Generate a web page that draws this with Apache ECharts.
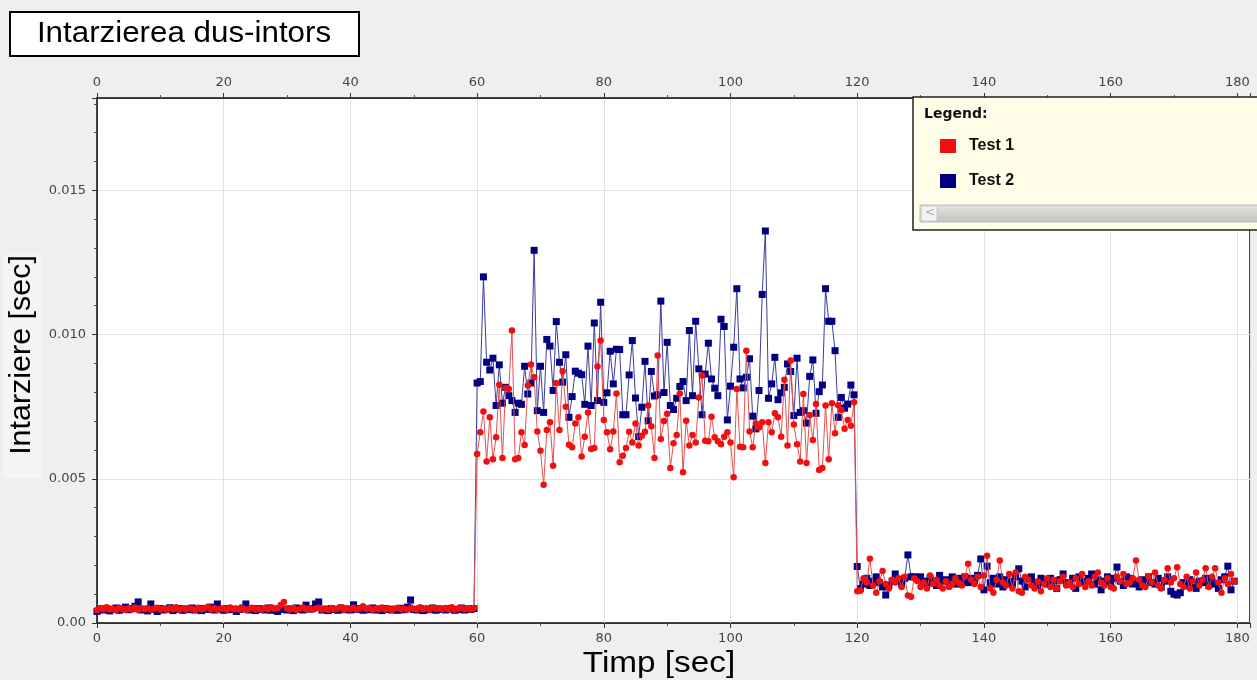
<!DOCTYPE html>
<html>
<head>
<meta charset="utf-8">
<script src="https://cdn.jsdelivr.net/npm/echarts@6/dist/echarts.min.js"></script>
<style>
html,body{margin:0;padding:0;background:#efefed;}
#chart{width:1257px;height:680px;}
</style>
</head>
<body>
<div id="chart"></div>
<script>
// ---- data (seconds), one sample every 0.5 s ----
const SAMPLE_STEP = 0.5;
const seriesNames = ['Test 1', 'Test 2'];
const xTickValues = [0, 20, 40, 60, 80, 100, 120, 140, 160, 180];
const xTickLabels = ['0', '20', '40', '60', '80', '100', '120', '140', '160', '180'];
const yTickValues = [0, 0.005, 0.010, 0.015];
const yTickLabels = ['0.00', '0.005', '0.010', '0.015'];

// Test 1, 0..59.5 s
const test1Phase1 = [
0.00045,0.00052,0.00048,0.00055,0.00047,0.00050,0.00044,0.00053,0.00049,0.00046,
0.00051,0.00047,0.00054,0.00045,0.00050,0.00048,0.00052,0.00046,0.00049,0.00053,
0.00047,0.00050,0.00045,0.00052,0.00048,0.00055,0.00046,0.00050,0.00047,0.00051,
0.00049,0.00045,0.00053,0.00048,0.00050,0.00056,0.00047,0.00052,0.00045,0.00049,
0.00051,0.00046,0.00054,0.00048,0.00050,0.00047,0.00052,0.00045,0.00049,0.00053,
0.00047,0.00050,0.00046,0.00052,0.00048,0.00055,0.00049,0.00051,0.00062,0.00073,
0.00050,0.00047,0.00052,0.00045,0.00049,0.00054,0.00048,0.00051,0.00046,0.00050,
0.00053,0.00047,0.00049,0.00045,0.00052,0.00048,0.00050,0.00055,0.00046,0.00051,
0.00048,0.00053,0.00047,0.00050,0.00058,0.00049,0.00052,0.00046,0.00050,0.00048,
0.00054,0.00047,0.00051,0.00045,0.00049,0.00053,0.00048,0.00050,0.00046,0.00052,
0.00049,0.00047,0.00055,0.00048,0.00051,0.00046,0.00053,0.00049,0.00050,0.00047,
0.00052,0.00048,0.00055,0.00046,0.00050,0.00053,0.00048,0.00051,0.00047,0.00052];
// Test 1, 60..119.5 s
const test1Phase2 = [
0.00586,0.00661,0.00733,0.00560,0.00713,0.00568,0.00644,0.00826,0.00572,0.00815,
0.00811,0.01014,0.00568,0.00572,0.00661,0.00617,0.00823,0.00896,0.00852,0.00664,
0.00597,0.00479,0.00669,0.00696,0.00545,0.00832,0.00669,0.00873,0.00750,0.00618,
0.00609,0.00692,0.00713,0.00577,0.00646,0.00730,0.00603,0.00607,0.00889,0.00979,
0.00704,0.00661,0.00602,0.00664,0.00796,0.00557,0.00580,0.00607,0.00663,0.00626,
0.00692,0.00615,0.00649,0.00663,0.00754,0.00682,0.00572,0.00927,0.00638,0.00700,
0.00725,0.00537,0.00623,0.00652,0.00796,0.00523,0.00701,0.00615,0.00652,0.00626,
0.00782,0.00858,0.00632,0.00630,0.00715,0.00644,0.00630,0.00620,0.00646,0.00661,
0.00626,0.00505,0.00811,0.00611,0.00609,0.00944,0.00664,0.00609,0.00692,0.00678,
0.00696,0.00555,0.00696,0.00661,0.00727,0.00713,0.00646,0.00843,0.00615,0.00910,
0.00688,0.00620,0.00560,0.00794,0.00555,0.00721,0.00634,0.00759,0.00530,0.00537,
0.00754,0.00568,0.00762,0.00658,0.00755,0.00738,0.00673,0.00704,0.00684,0.00765];
// Test 1, 120..179.5 s
const test1Phase3 = [
0.00110,0.00112,0.00155,0.00140,0.00223,0.00130,0.00105,0.00145,0.00180,0.00135,
0.00120,0.00150,0.00140,0.00155,0.00125,0.00160,0.00095,0.00091,0.00155,0.00145,
0.00125,0.00140,0.00120,0.00165,0.00135,0.00150,0.00130,0.00120,0.00145,0.00125,
0.00135,0.00155,0.00140,0.00130,0.00160,0.00205,0.00150,0.00135,0.00160,0.00125,
0.00165,0.00233,0.00120,0.00105,0.00150,0.00217,0.00140,0.00130,0.00170,0.00120,
0.00175,0.00110,0.00105,0.00160,0.00150,0.00130,0.00120,0.00145,0.00110,0.00135,
0.00155,0.00125,0.00150,0.00120,0.00145,0.00160,0.00130,0.00140,0.00125,0.00155,
0.00135,0.00170,0.00125,0.00145,0.00130,0.00160,0.00175,0.00140,0.00130,0.00155,
0.00125,0.00120,0.00160,0.00145,0.00170,0.00135,0.00140,0.00155,0.00217,0.00150,
0.00130,0.00125,0.00160,0.00140,0.00175,0.00130,0.00120,0.00150,0.00190,0.00140,
0.00155,0.00193,0.00135,0.00125,0.00160,0.00120,0.00145,0.00175,0.00130,0.00150,
0.00190,0.00125,0.00160,0.00190,0.00140,0.00105,0.00155,0.00135,0.00170,0.00145];

// Test 2, 0..59.5 s
const test2Phase1 = [
0.00040,0.00048,0.00045,0.00050,0.00042,0.00047,0.00052,0.00044,0.00048,0.00055,
0.00046,0.00050,0.00058,0.00073,0.00045,0.00048,0.00042,0.00066,0.00047,0.00040,
0.00050,0.00045,0.00048,0.00053,0.00043,0.00047,0.00050,0.00044,0.00049,0.00046,
0.00052,0.00045,0.00048,0.00043,0.00050,0.00047,0.00055,0.00045,0.00066,0.00048,
0.00044,0.00050,0.00046,0.00048,0.00040,0.00047,0.00052,0.00066,0.00045,0.00048,
0.00043,0.00050,0.00047,0.00045,0.00052,0.00044,0.00048,0.00040,0.00050,0.00047,
0.00045,0.00049,0.00043,0.00052,0.00047,0.00045,0.00062,0.00048,0.00050,0.00066,
0.00073,0.00045,0.00048,0.00043,0.00050,0.00047,0.00044,0.00052,0.00046,0.00048,
0.00045,0.00063,0.00047,0.00050,0.00044,0.00048,0.00046,0.00052,0.00045,0.00049,
0.00043,0.00050,0.00047,0.00045,0.00048,0.00044,0.00051,0.00046,0.00055,0.00080,
0.00047,0.00045,0.00050,0.00043,0.00048,0.00046,0.00052,0.00044,0.00049,0.00047,
0.00045,0.00050,0.00048,0.00044,0.00047,0.00052,0.00045,0.00049,0.00047,0.00050];
// Test 2, 60..119.5 s
const test2Phase2 = [
0.00832,0.00837,0.01200,0.00904,0.00877,0.00918,0.00754,0.00895,0.00762,0.00817,
0.00788,0.00771,0.00730,0.00762,0.00758,0.00890,0.00794,0.00832,0.01292,0.00736,
0.00890,0.00730,0.00983,0.00960,0.00806,0.01045,0.00904,0.00835,0.00930,0.00713,
0.00785,0.00873,0.00866,0.00861,0.00758,0.00960,0.00754,0.01040,0.00771,0.01112,
0.00765,0.00798,0.00942,0.00829,0.00949,0.00948,0.00722,0.00722,0.00860,0.00979,
0.00780,0.00646,0.00748,0.00907,0.00701,0.00872,0.00787,0.00791,0.01116,0.00799,
0.00973,0.00754,0.00740,0.00779,0.00820,0.00837,0.00771,0.01014,0.00788,0.01046,
0.00881,0.00722,0.00863,0.00970,0.00846,0.00814,0.00788,0.01053,0.01028,0.00704,
0.00821,0.00956,0.01159,0.00846,0.00815,0.00852,0.00916,0.00717,0.00673,0.00806,
0.01139,0.01359,0.00779,0.00829,0.00921,0.00774,0.00798,0.00817,0.00898,0.00872,
0.00719,0.00918,0.00730,0.00736,0.00693,0.00855,0.00912,0.00727,0.00802,0.00825,
0.01159,0.01046,0.01046,0.00944,0.00713,0.00782,0.00745,0.00759,0.00825,0.00791];
// Test 2, 120..179.5 s
const test2Phase3 = [
0.00196,0.00120,0.00135,0.00155,0.00130,0.00145,0.00160,0.00140,0.00125,0.00097,
0.00130,0.00145,0.00170,0.00150,0.00135,0.00155,0.00236,0.00160,0.00160,0.00155,
0.00160,0.00145,0.00135,0.00155,0.00140,0.00130,0.00165,0.00145,0.00150,0.00140,
0.00160,0.00135,0.00155,0.00145,0.00160,0.00140,0.00155,0.00145,0.00165,0.00222,
0.00115,0.00197,0.00140,0.00155,0.00135,0.00160,0.00125,0.00150,0.00145,0.00135,
0.00160,0.00188,0.00145,0.00125,0.00155,0.00160,0.00140,0.00130,0.00155,0.00145,
0.00135,0.00155,0.00145,0.00120,0.00150,0.00170,0.00140,0.00135,0.00155,0.00120,
0.00160,0.00140,0.00145,0.00155,0.00170,0.00135,0.00150,0.00115,0.00145,0.00160,
0.00140,0.00155,0.00194,0.00145,0.00130,0.00160,0.00155,0.00135,0.00140,0.00125,
0.00150,0.00145,0.00160,0.00140,0.00135,0.00155,0.00125,0.00145,0.00160,0.00110,
0.00100,0.00097,0.00105,0.00140,0.00130,0.00150,0.00135,0.00120,0.00145,0.00140,
0.00155,0.00130,0.00145,0.00135,0.00120,0.00150,0.00160,0.00197,0.00115,0.00145];

// ---- build ----
const test1 = test1Phase1.concat(test1Phase2, test1Phase3);
const test2 = test2Phase1.concat(test2Phase2, test2Phase3);
const toPairs = arr => arr.map((v, i) => [i * SAMPLE_STEP, v]);

function labelFor(values, labels) {
  return function (v) {
    for (let i = 0; i < values.length; i++) {
      if (Math.abs(v - values[i]) < 1e-9) return labels[i];
    }
    return '';
  };
}

const tickFont = { fontFamily: 'DejaVu Sans', fontSize: 13, color: '#444' };
function xAxisCfg(pos) {
  return {
    type: 'value', position: pos, min: 0, max: 182, interval: 20,
    axisLine: { show: true, onZero: false, lineStyle: { color: '#333', width: 1 } },
    axisTick: { show: true, length: 5, lineStyle: { color: '#333' } },
    minorTick: { show: true, splitNumber: 2, length: 3, lineStyle: { color: '#555' } },
    axisLabel: Object.assign({ margin: 9, showMaxLabel: false, formatter: labelFor(xTickValues, xTickLabels) }, tickFont),
    splitLine: { show: pos === 'bottom', lineStyle: { color: '#e3e3e3', width: 1 } }
  };
}

const chart = echarts.init(document.getElementById('chart'), null, { renderer: 'canvas' });
chart.setOption({
  animation: false,
  backgroundColor: '#efefed',
  grid: { left: 97, right: 7, top: 98, bottom: 57, show: true, backgroundColor: '#ffffff', borderColor: '#444', borderWidth: 2 },
  xAxis: [xAxisCfg('bottom'), xAxisCfg('top')],
  yAxis: {
    type: 'value', min: 0, max: 0.0182, interval: 0.005,
    axisLine: { show: true, lineStyle: { color: '#333' } },
    axisTick: { show: true, length: 5, lineStyle: { color: '#333' } },
    minorTick: { show: true, splitNumber: 5, length: 3, lineStyle: { color: '#555' } },
    axisLabel: Object.assign({ margin: 11, showMaxLabel: false, formatter: labelFor(yTickValues, yTickLabels) }, tickFont),
    splitLine: { show: true, lineStyle: { color: '#e3e3e3', width: 1 } }
  },
  legend: {
    orient: 'vertical', left: 940, top: 138, padding: 0, itemGap: 19, itemWidth: 16, itemHeight: 14,
    icon: 'rect', z: 30,
    textStyle: { fontFamily: 'Liberation Sans', fontWeight: 'bold', fontSize: 16, color: '#111', padding: [0, 0, 0, 8] },
    data: [
      { name: seriesNames[0], itemStyle: { color: '#f01010' } },
      { name: seriesNames[1], itemStyle: { color: '#000080' } }
    ]
  },
  graphic: [
    { type: 'rect', z: 10, shape: { x: 10, y: 12, width: 349, height: 44 }, style: { fill: '#ffffff', stroke: '#000', lineWidth: 2 } },
    { type: 'text', z: 11, x: 184, y: 34, scaleX: 1.08, style: { text: 'Intarzierea dus-intors', font: '29px "Liberation Sans"', fill: '#000', textAlign: 'center', textVerticalAlign: 'middle' } },
    { type: 'rect', z: 1, shape: { x: 3, y: 255, width: 39, height: 223 }, style: { fill: '#f5f5f3' } },
    { type: 'text', z: 11, x: 22, y: 355, rotation: Math.PI / 2, scaleX: 1.05, style: { text: 'Intarziere [sec]', font: '29px "Liberation Sans"', fill: '#000', textAlign: 'center', textVerticalAlign: 'middle' } },
    { type: 'text', z: 11, x: 659, y: 664, scaleX: 1.11, style: { text: 'Timp [sec]', font: '30px "Liberation Sans"', fill: '#000', textAlign: 'center', textVerticalAlign: 'middle' } },
    // legend panel
    { type: 'rect', z: 10, shape: { x: 913, y: 97, width: 360, height: 133 }, style: { fill: '#fdfde8', stroke: '#222', lineWidth: 1.5 } },
    { type: 'text', z: 11, x: 924, y: 114, style: { text: 'Legend:', font: 'bold 14px "DejaVu Sans"', fill: '#111', textVerticalAlign: 'middle' } },
    { type: 'rect', z: 11, shape: { x: 920, y: 205, width: 350, height: 17 }, style: { fill: new echarts.graphic.LinearGradient(0, 0, 0, 1, [{ offset: 0, color: '#e4e2e0' }, { offset: 1, color: '#c4c2c0' }]), stroke: '#bbb', lineWidth: 1 } },
    { type: 'rect', z: 12, shape: { x: 921, y: 206, width: 16, height: 15 }, style: { fill: '#f2f2f2', stroke: '#c8c8c8', lineWidth: 1 } },
    { type: 'text', z: 13, x: 925, y: 213, style: { text: '<', font: '12px "DejaVu Sans"', fill: '#aaa', textVerticalAlign: 'middle' } }
  ],
  series: [
    {
      name: seriesNames[1], type: 'line', xAxisIndex: 0, z: 3,
      data: toPairs(test2), symbol: 'rect', symbolSize: 7, showAllSymbol: true,
      itemStyle: { color: '#000080' }, lineStyle: { color: '#3c3ca0', width: 1 }
    },
    {
      name: seriesNames[0], type: 'line', xAxisIndex: 0, z: 4,
      data: toPairs(test1), symbol: 'circle', symbolSize: 6.5, showAllSymbol: true,
      itemStyle: { color: '#f01010' }, lineStyle: { color: '#e85050', width: 1 }
    }
  ]
});
</script>
</body>
</html>
